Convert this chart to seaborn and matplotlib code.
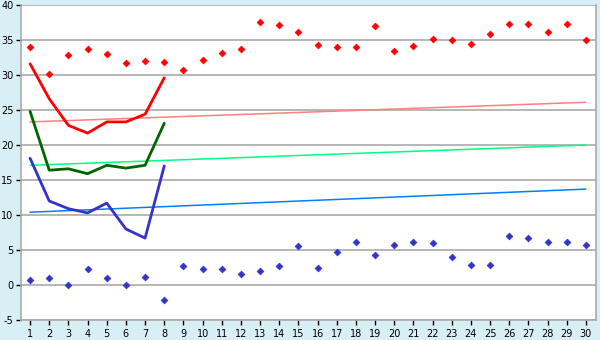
import matplotlib
matplotlib.use("Agg")
import matplotlib.pyplot as plt
import seaborn as sns
import pandas as pd
import numpy as np

days = list(range(1, 31))
high_pts = [34.0, 30.1, 32.9, 33.7, 33.0, 31.7, 32.0, 31.9, 30.7, 32.1,
            33.1, 33.7, 37.6, 37.1, 36.1, 34.3, 34.0, 34.0, 37.0, 33.4,
            34.1, 35.1, 35.0, 34.4, 35.9, 37.3, 37.3, 36.1, 37.3, 35.0]
low_pts = [0.7, 1.0, 0.0, 2.3, 1.0, 0.0, 1.1, -2.1, 2.7, 2.3,
           2.3, 1.6, 2.0, 2.7, 5.6, 2.4, 4.7, 6.1, 4.3, 5.7,
           6.1, 6.0, 4.0, 2.9, 2.9, 7.0, 6.7, 6.1, 6.1, 5.7]

line_days = [1, 2, 3, 4, 5, 6, 7, 8]
red_line = [31.6, 26.6, 22.8, 21.7, 23.3, 23.3, 24.4, 29.6]
green_line = [24.8, 16.4, 16.6, 15.9, 17.1, 16.7, 17.1, 23.1]
blue_line = [18.1, 12.0, 10.9, 10.3, 11.7, 8.0, 6.7, 17.0]

trend_days = [1, 30]
trend_red = [23.3, 26.1]
trend_green = [17.1, 20.0]
trend_blue = [10.4, 13.7]

y_ticks = [-5, 0, 5, 10, 15, 20, 25, 30, 35, 40]

bg = "#D9EFF6"
sns.set_theme(style="white")
plt.rcParams['font.family'] = ['DejaVu Sans']

fig = plt.figure(figsize=(6, 3.4), dpi=100, facecolor=bg)
ax = fig.add_axes([20.5/600, 20/340, 575/600, 315/340])
ax.set_facecolor("white")

for y in y_ticks:
    ax.axhline(y, color="#AAAAAA", lw=1.2, zorder=0)

sns.lineplot(x=trend_days, y=trend_red, color="#FF8080", lw=1.1, ax=ax)
sns.lineplot(x=trend_days, y=trend_green, color="#00FF80", lw=1.1, ax=ax)
sns.lineplot(x=trend_days, y=trend_blue, color="#0080FF", lw=1.1, ax=ax)

sns.lineplot(x=line_days, y=red_line, color="#FF0000", lw=2.0, ax=ax)
sns.lineplot(x=line_days, y=green_line, color="#006400", lw=2.0, ax=ax)
sns.lineplot(x=line_days, y=blue_line, color="#3333CC", lw=2.0, ax=ax)

sns.scatterplot(x=days, y=high_pts, color="#FF0000", marker="D", s=12,
                edgecolor="#FF0000", linewidth=0.5, ax=ax, zorder=5)
sns.scatterplot(x=days, y=low_pts, color="#3333CC", marker="D", s=12,
                edgecolor="#3333CC", linewidth=0.5, ax=ax, zorder=5)

ax.set_xlim(0.5, 30.5)
ax.set_ylim(-5, 40)
ax.set_xticks(days)
ax.set_xticklabels([str(d) for d in days])
ax.set_yticks(y_ticks)
ax.set_yticklabels([str(v) for v in y_ticks])
ax.tick_params(axis="both", labelsize=7, colors="#000000", length=3.5,
               width=1, direction="out", color="#000000", pad=1.5)
ax.tick_params(axis="x", pad=3)
ax.tick_params(axis="both", bottom=True, left=True)
for s in ["left", "bottom", "right"]:
    ax.spines[s].set_color("#AAAAAA")
    ax.spines[s].set_linewidth(1.2)
ax.spines["top"].set_visible(False)
ax.set_xlabel("")
ax.set_ylabel("")

fig.savefig("out.png", dpi=100, facecolor=bg)
